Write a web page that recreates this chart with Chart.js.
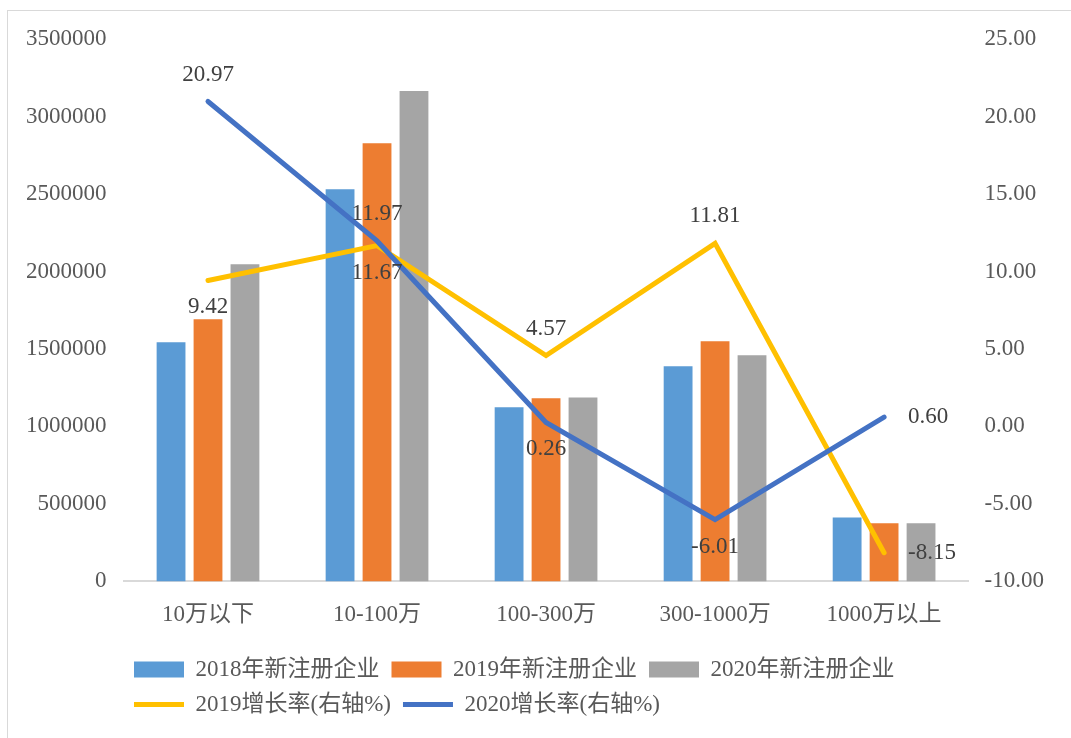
<!DOCTYPE html>
<html>
<head>
<meta charset="utf-8">
<script src="https://cdn.jsdelivr.net/npm/chart.js@4"></script>
<style>
  html, body { margin: 0; padding: 0; background: #fff; overflow: hidden; }
  #frame {
    position: absolute; left: 7px; top: 10px;
    width: 1075px; height: 740px;
    border: 1px solid #d9d9d9; box-sizing: border-box;
  }
  #wrap { position: absolute; left: 0; top: 0; width: 1063px; height: 727px; }
</style>
</head>
<body>
<div id="frame"><div id="wrap"><canvas id="mainChart"></canvas></div></div>
<script>
const categories = ["10万以下", "10-100万", "100-300万", "300-1000万", "1000万以上"];
const reg2018 = [1543000, 2531000, 1124000, 1388000, 413000];
const reg2019 = [1692000, 2828000, 1182000, 1550000, 375000];
const reg2020 = [2047000, 3164000, 1186000, 1459000, 375000];
const rate2019 = [9.42, 11.67, 4.57, 11.81, -8.15];
const rate2020 = [20.97, 11.97, 0.26, -6.01, 0.60];
// where each growth label sits relative to its point
const rate2019Pos = ["below", "below", "above", "above", "right"];
const rate2020Pos = ["above", "above", "below", "below", "right"];

const FONT = '"Liberation Serif", "Times New Roman", "Noto Sans CJK SC", serif';
const TEXT = "#595959";
const SIZE = 23;

const valueLabels = {
  id: "valueLabels",
  afterDatasetsDraw(chart) {
    const ctx = chart.ctx;
    ctx.save();
    ctx.font = SIZE + "px " + FONT;
    ctx.fillStyle = "#404040";
    chart.data.datasets.forEach((ds, di) => {
      if (!ds.labelPos) return;
      const meta = chart.getDatasetMeta(di);
      meta.data.forEach((pt, i) => {
        let x = pt.x, y = pt.y;
        ctx.textAlign = "center";
        ctx.textBaseline = "middle";
        if (ds.labelPos[i] === "above") y -= 27;
        else if (ds.labelPos[i] === "below") y += 27;
        else { ctx.textAlign = "left"; x += 24; }
        ctx.fillText(ds.data[i].toFixed(2), x, y);
      });
    });
    ctx.restore();
  },
};

// keep the legend rows left-aligned under the plot, like the original
const legendShift = {
  id: "legendShift",
  afterLayout(chart) {
    chart.legend.left = 114;
    chart.legend.right = 990;
    chart.legend.top += 5;
  },
};

const ctx = document.getElementById("mainChart").getContext("2d");
new Chart(ctx, {
  type: "bar",
  data: {
    labels: categories,
    datasets: [
      { label: "2018年新注册企业", data: reg2018, backgroundColor: "#5b9bd5", yAxisID: "y", order: 2 },
      { label: "2019年新注册企业", data: reg2019, backgroundColor: "#ed7d31", yAxisID: "y", order: 2 },
      { label: "2020年新注册企业", data: reg2020, backgroundColor: "#a5a5a5", yAxisID: "y", order: 2 },
      {
        type: "line", label: "2019增长率(右轴%)", data: rate2019, labelPos: rate2019Pos,
        borderColor: "#ffc000", backgroundColor: "#ffc000", borderWidth: 5,
        pointRadius: 0, borderCapStyle: "round", yAxisID: "y1", order: 1,
      },
      {
        type: "line", label: "2020增长率(右轴%)", data: rate2020, labelPos: rate2020Pos,
        borderColor: "#4472c4", backgroundColor: "#4472c4", borderWidth: 5,
        pointRadius: 0, borderCapStyle: "round", yAxisID: "y1", order: 0,
      },
    ],
  },
  options: {
    responsive: true,
    maintainAspectRatio: false,
    animation: false,
    datasets: { bar: { categoryPercentage: 0.656, barPercentage: 0.78 } },
    layout: { padding: { left: 9, right: 19, top: 28, bottom: 17 } },
    plugins: {
      tooltip: { enabled: false },
      legend: {
        position: "bottom",
        align: "start",
        labels: {
          font: { family: FONT, size: SIZE },
          color: TEXT,
          usePointStyle: true,
          pointStyleWidth: 50,
          boxHeight: 16,
          padding: 12,
          sort: (a, b) => a.datasetIndex - b.datasetIndex,
          generateLabels(chart) {
            const items = Chart.defaults.plugins.legend.labels.generateLabels(chart);
            return items.map((it) => {
              const ds = chart.data.datasets[it.datasetIndex];
              it.pointStyle = ds.type === "line" ? "line" : "rect";
              if (ds.type !== "line") it.lineWidth = 0;
              return it;
            });
          },
        },
      },
    },
    scales: {
      x: {
        grid: { display: false },
        border: { color: "#d9d9d9", width: 2 },
        ticks: { font: { family: FONT, size: SIZE }, color: TEXT, padding: 12 },
      },
      y: {
        position: "left",
        min: 0, max: 3500000,
        grid: { display: false },
        border: { display: false },
        ticks: {
          stepSize: 500000, font: { family: FONT, size: SIZE }, color: TEXT, padding: 9,
          callback: (v) => String(v),
        },
      },
      y1: {
        position: "right",
        min: -10, max: 25,
        grid: { display: false },
        border: { display: false },
        ticks: {
          stepSize: 5, font: { family: FONT, size: SIZE }, color: TEXT, padding: 8,
          callback: (v) => v.toFixed(2),
        },
      },
    },
  },
  plugins: [valueLabels, legendShift],
});
</script>
</body>
</html>
